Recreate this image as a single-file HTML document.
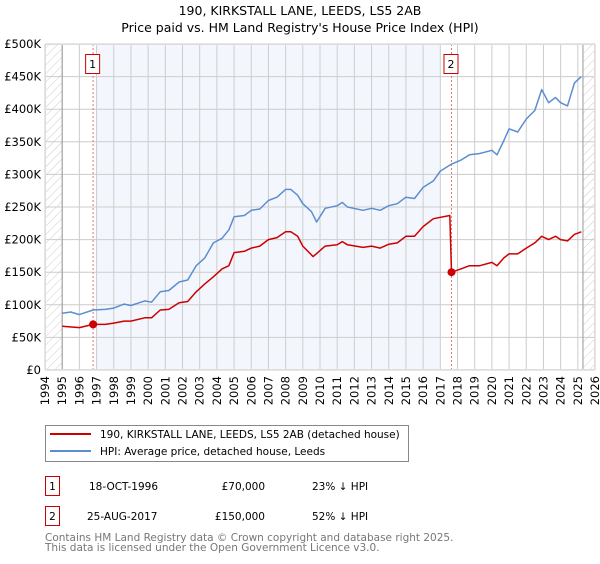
<!DOCTYPE html>
<html><head><meta charset="utf-8"><style>
body{margin:0;background:#fff;font-family:"DejaVu Sans","Liberation Sans",sans-serif;}
svg text{font-family:"DejaVu Sans","Liberation Sans",sans-serif;}
</style></head><body>
<svg width="600" height="560" xmlns="http://www.w3.org/2000/svg">
<defs><pattern id="hatch" width="6" height="6" patternUnits="userSpaceOnUse" patternTransform="rotate(45)"><line x1="0" y1="0" x2="0" y2="6" stroke="#ccc" stroke-width="1"/></pattern></defs>
<text x="300" y="15" text-anchor="middle" font-size="12.5">190, KIRKSTALL LANE, LEEDS, LS5 2AB</text>
<text x="300" y="32" text-anchor="middle" font-size="12.5">Price paid vs. HM Land Registry's House Price Index (HPI)</text>
<g id="plot"></g>
<g>
<rect x="45.5" y="425.5" width="363" height="36" fill="#fff" stroke="#888"/>
<line x1="50" y1="434" x2="91" y2="434" stroke="#cc0000" stroke-width="2"/>
<text x="100" y="438" font-size="10.5">190, KIRKSTALL LANE, LEEDS, LS5 2AB (detached house)</text>
<line x1="50" y1="451" x2="91" y2="451" stroke="#5b8ed0" stroke-width="2"/>
<text x="100" y="455" font-size="10.5">HPI: Average price, detached house, Leeds</text>
</g>
<g font-size="10.5">
<rect x="45.5" y="476.5" width="14" height="19" fill="#fff" stroke="#cc0000"/>
<text x="52.5" y="490" text-anchor="middle">1</text>
<text x="89" y="490">18-OCT-1996</text>
<text x="265" y="490" text-anchor="end">£70,000</text>
<text x="312" y="490">23% ↓ HPI</text>
<rect x="45.5" y="506.5" width="14" height="19" fill="#fff" stroke="#cc0000"/>
<text x="52.5" y="520" text-anchor="middle">2</text>
<text x="87" y="520">25-AUG-2017</text>
<text x="265" y="520" text-anchor="end">£150,000</text>
<text x="312" y="520">52% ↓ HPI</text>
</g>
<text x="45" y="541" font-size="10.5" fill="#777">Contains HM Land Registry data © Crown copyright and database right 2025.</text>
<text x="45" y="551" font-size="10.5" fill="#777">This data is licensed under the Open Government Licence v3.0.</text>
</svg>
<script>
const yTicks=[0,50000,100000,150000,200000,250000,300000,350000,400000,450000,500000];
const yLabels=["£0","£50K","£100K","£150K","£200K","£250K","£300K","£350K","£400K","£450K","£500K"];
const xYears=[1994,1995,1996,1997,1998,1999,2000,2001,2002,2003,2004,2005,2006,2007,2008,2009,2010,2011,2012,2013,2014,2015,2016,2017,2018,2019,2020,2021,2022,2023,2024,2025,2026];
const hpiT=[1995,1995.5,1996,1996.8,1997.5,1998,1998.6,1999,1999.8,2000.2,2000.7,2001.2,2001.8,2002.3,2002.8,2003.3,2003.8,2004.3,2004.7,2005,2005.6,2006,2006.5,2007,2007.5,2008,2008.3,2008.7,2009,2009.5,2009.8,2010.3,2011,2011.3,2011.6,2012.5,2013,2013.5,2014,2014.5,2015,2015.5,2016,2016.6,2017,2017.6,2018.2,2018.7,2019.3,2020,2020.3,2020.7,2021,2021.5,2022,2022.5,2022.9,2023.3,2023.7,2024,2024.4,2024.8,2025.2];
const hpiV=[87,89,85,92,93,95,101,99,106,104,120,122,135,138,160,172,195,202,215,235,237,245,247,260,265,277,277,268,255,243,227,248,252,257,250,245,248,245,252,255,265,263,280,290,305,315,322,330,332,337,330,352,370,365,385,398,430,410,418,410,405,440,450];
const propT=[1995,1996,1996.8,1997.5,1998,1998.6,1999,1999.8,2000.2,2000.7,2001.2,2001.8,2002.3,2002.8,2003.3,2003.8,2004.3,2004.7,2005,2005.6,2006,2006.5,2007,2007.5,2008,2008.3,2008.7,2009,2009.6,2010.3,2011,2011.3,2011.6,2012.5,2013,2013.5,2014,2014.5,2015,2015.5,2016,2016.6,2017.55,2017.65,2018.2,2018.7,2019.3,2020,2020.3,2020.7,2021,2021.5,2022,2022.5,2022.9,2023.3,2023.7,2024,2024.4,2024.8,2025.2];
const propV=[67,65,70,70,72,75,75,80,80,92,93,103,105,120,132,143,155,160,180,182,187,190,200,203,212,212,205,190,174,190,192,197,192,188,190,187,193,195,205,205,220,232,237,150,155,160,160,165,160,172,178,178,187,195,205,200,205,200,198,208,212];
const saleT=[1996.8,2017.65];
const saleV=[70,150];
const saleLabels=["1","2"];

const NS="http://www.w3.org/2000/svg";
const L=45,R=595,T=44,B=370;
const xs=t=>L+(t-1994)/32*(R-L);
const ys=v=>B-v/500000*(B-T);
const g=document.getElementById('plot');
function mk(tag,attrs,parent){const e=document.createElementNS(NS,tag);for(const k in attrs)e.setAttribute(k,attrs[k]);(parent||g).appendChild(e);return e;}
let e;
e=mk('rect',{x:L,y:T,width:R-L,height:B-T,fill:'#fff'});
e=mk('rect',{x:xs(1997),y:T,width:xs(2017)-xs(1997),height:B-T,fill:'#eef3fc',opacity:0.7});


e=mk('rect',{x:L,y:T,width:xs(1995)-L,height:B-T,fill:'url(#hatch)'});


e=mk('rect',{x:xs(2025.3),y:T,width:R-xs(2025.3),height:B-T,fill:'url(#hatch)'});


yTicks.forEach((v,i)=>{
 e=mk('line',{x1:L,x2:R,y1:ys(v),y2:ys(v),stroke:'#ccc','stroke-width':1});
 
 
 e=mk('text',{x:L-4,y:ys(v)+4,'text-anchor':'end','font-size':11.5});
 e.textContent=yLabels[i];
 
 
});
xYears.forEach(yr=>{
 e=mk('line',{x1:xs(yr),x2:xs(yr),y1:T,y2:B,stroke:'#ccc','stroke-width':1});
 
 
 e=mk('text',{x:0,y:0,'text-anchor':'end','font-size':11.5,transform:`translate(${xs(yr)+4},${B+6}) rotate(-90)`});
 e.textContent=yr;
 
 
});
e=mk('line',{x1:xs(1995),x2:xs(1995),y1:T,y2:B,stroke:'#999'});
e=mk('line',{x1:xs(2025.3),x2:xs(2025.3),y1:T,y2:B,stroke:'#999'});
saleT.forEach((t,i)=>{
 e=mk('line',{x1:xs(t),x2:xs(t),y1:T,y2:B,stroke:'#f07070','stroke-dasharray':'2,2'});
 
 
 e=mk('rect',{x:xs(t)-7.5,y:54.5,width:14,height:19,fill:'#fff',stroke:'#cc0000'});
 
 
 e=mk('text',{x:xs(t)-0.5,y:68,'text-anchor':'middle','font-size':11});
 e.textContent=saleLabels[i];
});
function path(T2,V,color,name){
 const d=T2.map((t,i)=>(i?'L':'M')+xs(t).toFixed(1)+','+ys(V[i]*1000).toFixed(1)).join('');
 e=mk('path',{d:d,fill:'none',stroke:color,'stroke-width':1.5,'stroke-linejoin':'round'});
 
 
}
path(hpiT,hpiV,'#5b8ed0','hpi-line');
path(propT,propV,'#cc0000','property-line');
saleT.forEach((t,i)=>{
 e=mk('circle',{cx:xs(t),cy:ys(saleV[i]*1000),r:4,fill:'#cc0000'});
 
 
});
e=mk('rect',{x:L+0.5,y:T+0.5,width:R-L-1,height:B-T-1,fill:'none',stroke:'#ddd'});
</script>
</body></html>
